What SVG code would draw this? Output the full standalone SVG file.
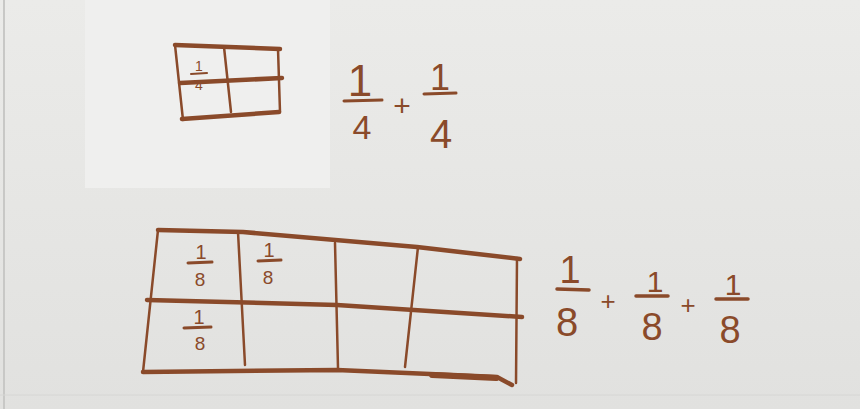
<svg xmlns="http://www.w3.org/2000/svg" width="860" height="409" viewBox="0 0 860 409">
<defs>
<linearGradient id="bg" x1="0" y1="0" x2="0" y2="1">
<stop offset="0" stop-color="#ebebe9"/>
<stop offset="1" stop-color="#e1e1df"/>
</linearGradient>
<style>
.ink{fill:none;stroke:#8a4a2a;stroke-linecap:round;stroke-linejoin:round}
.thick{stroke-width:4.5}
.thin{stroke-width:2.5}
.t{font-family:"Liberation Sans",Arial,sans-serif;fill:#8a4a2a;text-anchor:middle}
</style>
</defs>
<rect width="860" height="409" fill="url(#bg)"/>
<rect x="85" y="0" width="245" height="188" fill="#efefee"/>
<line x1="4" y1="0" x2="4" y2="409" stroke="#c8c8c6" stroke-width="2"/>
<line x1="0" y1="395" x2="860" y2="395" stroke="#d6d6d4" stroke-width="1"/>

<g id="small-grid">
<path class="ink thick" d="M175 45 L280 49"/>
<path class="ink thick" d="M180 83 L282 78"/>
<path class="ink thick" d="M182 119 L279 112"/>
<path class="ink thin" d="M175 45 L183 120"/>
<path class="ink thin" d="M224 47 L231 112"/>
<path class="ink thin" d="M278 49 L280 112"/>
<text class="t" x="199" y="71" font-size="14">1</text>
<line class="ink" stroke-width="2" x1="191" y1="74" x2="207" y2="73"/>
<text class="t" x="199" y="90" font-size="14">4</text>
</g>

<g id="quarter-sum">
<text class="t" x="360" y="96" font-size="44">1</text>
<line class="ink" stroke-width="3" x1="344" y1="101" x2="382" y2="100"/>
<text class="t" x="362" y="139" font-size="34">4</text>
<text class="t" x="402" y="116" font-size="30">+</text>
<text class="t" x="440" y="90" font-size="36">1</text>
<line class="ink" stroke-width="3" x1="424" y1="94" x2="456" y2="93"/>
<text class="t" x="441" y="148" font-size="40">4</text>
</g>

<g id="large-grid">
<path class="ink thick" d="M158 230 L243 232 L417 247 L520 259"/>
<path class="ink thick" d="M147 300 L337 305 L522 317"/>
<path class="ink thick" d="M143 372 L337 370 L430 374 L497 377 L512 385"/>
<path class="ink" stroke-width="6" d="M432 375 L496 378"/>
<path class="ink thin" d="M158 230 L143 372"/>
<path class="ink thin" d="M238 232 L245 365"/>
<path class="ink thin" d="M335 243 L338 368"/>
<path class="ink thin" d="M418 247 L405 367"/>
<path class="ink thin" d="M517 258 L516 383"/>
<text class="t" x="201" y="259" font-size="20">1</text>
<line class="ink" stroke-width="3" x1="188" y1="263" x2="212" y2="262"/>
<text class="t" x="200" y="286" font-size="19">8</text>
<text class="t" x="269" y="257" font-size="20">1</text>
<line class="ink" stroke-width="3" x1="258" y1="261" x2="281" y2="260"/>
<text class="t" x="268" y="284" font-size="19">8</text>
<text class="t" x="199" y="324" font-size="20">1</text>
<line class="ink" stroke-width="3" x1="184" y1="328" x2="211" y2="327"/>
<text class="t" x="200" y="350" font-size="19">8</text>
</g>

<g id="eighth-sum">
<text class="t" x="570" y="283" font-size="38">1</text>
<line class="ink" stroke-width="3.5" x1="557" y1="289" x2="589" y2="290"/>
<text class="t" x="567" y="336" font-size="40">8</text>
<text class="t" x="608" y="310" font-size="26">+</text>
<text class="t" x="655" y="292" font-size="30">1</text>
<line class="ink" stroke-width="3.5" x1="636" y1="296" x2="668" y2="296"/>
<text class="t" x="652" y="340" font-size="38">8</text>
<text class="t" x="688" y="314" font-size="26">+</text>
<text class="t" x="733" y="295" font-size="30">1</text>
<line class="ink" stroke-width="3.5" x1="716" y1="299" x2="748" y2="299"/>
<text class="t" x="730" y="343" font-size="38">8</text>
</g>
</svg>
